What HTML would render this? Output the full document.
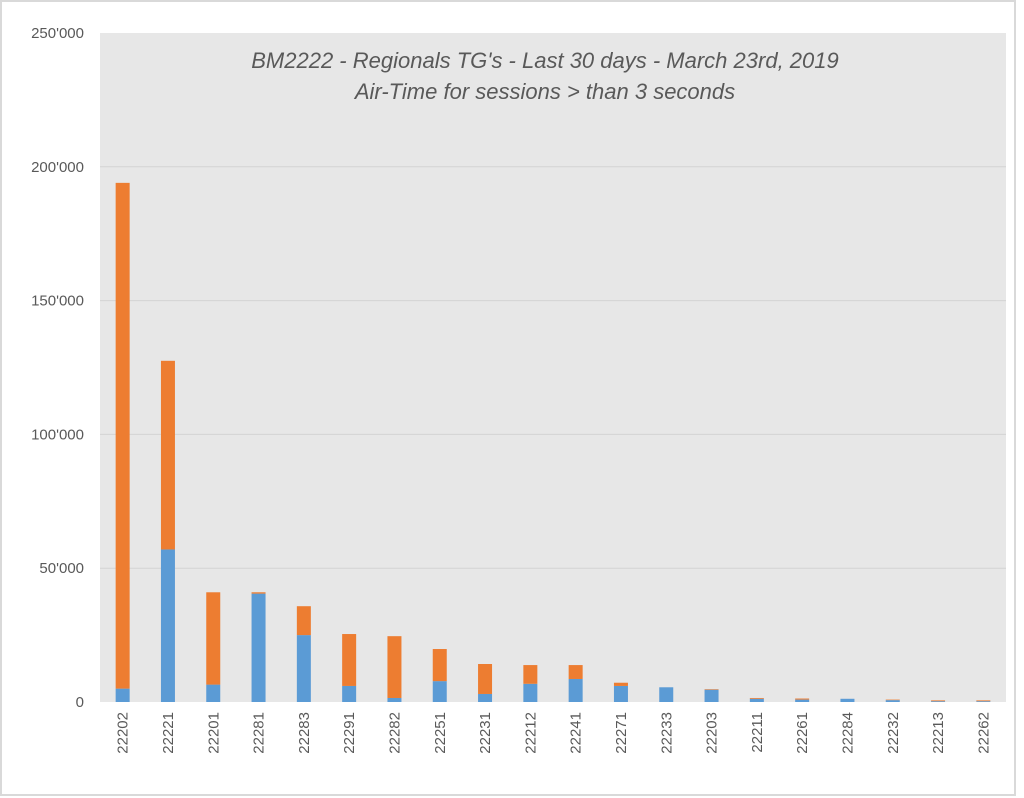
<!DOCTYPE html>
<html><head><meta charset="utf-8"><style>
body{margin:0;background:#fff;}
svg{display:block;font-family:"Liberation Sans",sans-serif;}
</style></head><body>
<svg id="chart" width="1024" height="798">
<rect x="1" y="1" width="1014" height="794" fill="#fff" stroke="#d9d9d9" stroke-width="2"/>
<rect x="100" y="33" width="906" height="669" fill="#e7e7e7"/>
<g id="grid"></g><g id="bars"></g><g id="yticks"></g><g id="xticks"></g>
<text x="545" y="68" text-anchor="middle" font-size="22" font-style="italic" fill="#595959">BM2222 - Regionals TG's - Last 30 days -  March 23rd, 2019</text>
<text x="545" y="99" text-anchor="middle" font-size="22" font-style="italic" fill="#595959">Air-Time for sessions &gt; than 3 seconds</text>
</svg>
<script>
const categories=["22202","22221","22201","22281","22283","22291","22282","22251","22231","22212","22241","22271","22233","22203","22211","22261","22284","22232","22213","22262"];
const blueValues=[5000,57000,6500,40500,25000,6000,1500,7800,3000,6800,8600,6000,5500,4600,1200,900,1200,700,300,300];
const orangeValues=[189000,70500,34500,500,10800,19400,23100,12000,11200,7000,5200,1200,0,200,300,400,0,200,300,300];
const yTicks=[0,50000,100000,150000,200000,250000];
const yTickLabels=["0","50'000","100'000","150'000","200'000","250'000"];
const NS="http://www.w3.org/2000/svg";
const X0=100,X1=1006,Y0=702,Y1=33,YMAX=250000;
const y=v=>Y0-(v/YMAX)*(Y0-Y1);
const step=(X1-X0)/categories.length;
const xc=i=>X0+step*(i+0.5);
const bw=14;
function mk(tag,attrs,parent){const e=document.createElementNS(NS,tag);for(const k in attrs)e.setAttribute(k,attrs[k]);parent.appendChild(e);return e;}
const grid=document.getElementById('grid'),bars=document.getElementById('bars'),yt=document.getElementById('yticks'),xt=document.getElementById('xticks');
yTicks.forEach((t,i)=>{
 if(t>0&&t<YMAX){const l=mk('line',{x1:X0,x2:X1,y1:y(t),y2:y(t),stroke:'#d4d4d4','stroke-width':1},grid);
 
 }
 const tx=mk('text',{x:84,y:y(t)+5,'text-anchor':'end','font-size':15,fill:'#595959'},yt);
 tx.textContent=yTickLabels[i];
 
 
});
categories.forEach((c,i)=>{
 const b=blueValues[i],o=orangeValues[i];
 const r1=mk('rect',{x:xc(i)-bw/2,y:y(b),width:bw,height:Y0-y(b),fill:'#5b9bd5'},bars);
 
 
 const r2=mk('rect',{x:xc(i)-bw/2,y:y(b+o),width:bw,height:y(b)-y(b+o),fill:'#ed7d31'},bars);
 
 
 const tx=mk('text',{x:0,y:0,'text-anchor':'end','font-size':15,fill:'#595959',transform:`translate(${xc(i)+5},712) rotate(-90)`},xt);
 tx.textContent=c;
 
 
});
</script>
</body></html>
